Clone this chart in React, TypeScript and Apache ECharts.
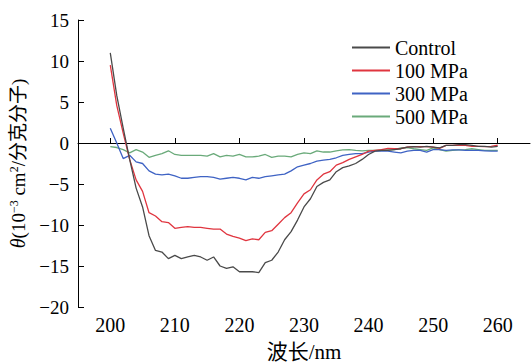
import React, { useEffect, useRef } from "react";
import * as echarts from "echarts";

const wavelengths = [
  200, 201, 202, 203, 204, 205, 206, 207, 208, 209,
  210, 211, 212, 213, 214, 215, 216, 217, 218, 219,
  220, 221, 222, 223, 224, 225, 226, 227, 228, 229,
  230, 231, 232, 233, 234, 235, 236, 237, 238, 239,
  240, 241, 242, 243, 244, 245, 246, 247, 248, 249,
  250, 251, 252, 253, 254, 255, 256, 257, 258, 259, 260,
];

const control = [
  11, 5.8, 1.8, -2.0, -5.5, -7.8, -11.3, -13.1, -13.3, -14.1,
  -13.7, -14.1, -13.9, -13.7, -13.9, -14.3, -13.9, -15.0, -15.3, -15.1,
  -15.7, -15.7, -15.7, -15.8, -14.6, -14.3, -13.3, -11.8, -10.8, -9.4,
  -7.8, -6.8, -5.3, -4.8, -4.5, -3.5, -3.0, -2.8, -2.5, -2.0,
  -1.4, -1.0, -0.9, -0.9, -0.8, -0.7, -0.5, -0.45, -0.5, -0.4,
  -0.5, -0.6, -0.3, -0.3, -0.2, -0.2, -0.3, -0.4, -0.4, -0.5, -0.4,
];

const mpa100 = [
  9.5, 4.6, 1.2, -2.0, -4.5, -5.9, -8.5, -8.9, -9.6, -9.7,
  -10.4, -10.3, -10.2, -10.3, -10.3, -10.4, -10.5, -10.5, -11.1, -11.4,
  -11.6, -11.9, -11.7, -11.8, -10.9, -10.7, -9.9, -9.1, -8.5, -7.3,
  -6.2, -5.7, -4.5, -3.8, -3.5, -2.7, -2.4, -2.0, -1.7, -1.4,
  -1.0, -0.9, -0.8, -0.65, -0.7, -0.7, -0.5, -0.45, -0.45, -0.45,
  -0.5, -0.65, -0.3, -0.3, -0.25, -0.3, -0.4, -0.4, -0.45, -0.4, -0.25,
];

const mpa300 = [
  1.8, 0, -1.9, -1.5, -2.3, -2.5, -3.4, -3.8, -3.9, -3.8,
  -4.0, -4.3, -4.3, -4.2, -4.1, -4.1, -4.2, -4.4, -4.3, -4.2,
  -4.3, -4.5, -4.2, -4.3, -4.1, -4.0, -3.9, -3.8, -3.4, -2.9,
  -2.7, -2.5, -2.2, -2.1, -2.0, -1.8, -1.5, -1.4, -1.3, -1.3,
  -1.1, -1.0, -1.0, -1.0, -1.1, -1.2, -1.0, -0.9, -0.9, -1.1,
  -0.8, -0.8, -0.9, -0.85, -0.85, -0.9, -0.9, -0.9, -0.95, -1.0, -1.0,
];

const mpa500 = [
  -0.45, -0.55, -0.8, -1.2, -0.8, -1.1, -1.75, -1.5, -1.3, -0.95,
  -1.4, -1.5, -1.5, -1.5, -1.5, -1.6, -1.3, -1.7, -1.5, -1.6,
  -1.4, -1.7, -1.7, -1.6, -1.4, -1.75, -1.6, -1.6, -1.7, -1.4,
  -1.2, -1.3, -0.95, -1.1, -1.1, -0.95, -0.85, -0.8, -0.9, -0.95,
  -0.9, -0.9, -0.85, -0.85, -0.8, -0.6, -0.55, -0.7, -0.8, -0.9,
  -0.6, -0.8, -1.0, -0.9, -0.85, -0.8, -0.7, -0.8, -0.9, -0.9, -0.9,
];

const seriesNames = ["Control", "100 MPa", "300 MPa", "500 MPa"];
const seriesColors = ["#4a4a4a", "#e0353f", "#3f63c4", "#6aaa7a"];
const xTicks = [200, 210, 220, 230, 240, 250, 260];

const SERIF = "Liberation Serif";
const CJK = "Liberation Serif, Noto Sans CJK SC";

export default function App() {
  const ref = useRef<HTMLDivElement>(null);

  useEffect(() => {
    if (!ref.current) return;
    const chart = echarts.init(ref.current, null, { renderer: "svg" });
    const allData = [control, mpa100, mpa300, mpa500];
    const option: any = {
      animation: false,
      backgroundColor: "#ffffff",
      textStyle: { fontFamily: SERIF },
      grid: { left: 78, right: 1, top: 20, bottom: 55, containLabel: false, outerBoundsMode: "none" },
      legend: {
        orient: "vertical",
        left: 352,
        top: 36,
        padding: 0,
        itemWidth: 38,
        itemHeight: 2,
        itemGap: 0,
        icon: "rect",
        textStyle: { fontFamily: SERIF, fontSize: 20, color: "#000", lineHeight: 23 },
        data: seriesNames,
      },
      xAxis: {
        type: "value",
        min: 195,
        max: 265,
        name: "波长/nm",
        nameLocation: "middle",
        nameGap: 34,
        nameTextStyle: { fontFamily: CJK, fontSize: 21, color: "#000" },
        axisLine: { show: true, lineStyle: { color: "#000", width: 1 } },
        axisTick: { show: true, inside: true, length: 5, customValues: xTicks, lineStyle: { color: "#000" } },
        axisLabel: {
          customValues: xTicks,
          fontFamily: SERIF,
          fontSize: 20,
          color: "#000",
          margin: 8,
        },
        splitLine: { show: false },
      },
      yAxis: {
        type: "value",
        min: -20,
        max: 15,
        interval: 5,
        name: "{it|θ}{n|(10}{sup|−3}{n| cm}{sup|2}{n|/分克分子)}",
        nameLocation: "middle",
        nameRotate: 90,
        nameGap: 38,
        nameTextStyle: {
          fontFamily: CJK,
          fontSize: 19,
          color: "#000",
          rich: {
            it: { fontFamily: SERIF, fontStyle: "italic", fontSize: 20, color: "#000" },
            n: { fontFamily: CJK, fontSize: 19, color: "#000" },
            sup: { fontFamily: SERIF, fontSize: 12, color: "#000", verticalAlign: "top", padding: [0, 0, 8, 0] },
          },
        },
        axisLine: { show: true, lineStyle: { color: "#000", width: 1 } },
        axisTick: { show: true, inside: true, length: 6, lineStyle: { color: "#000" } },
        axisLabel: {
          fontFamily: SERIF,
          fontSize: 19,
          color: "#000",
          margin: 9,
          formatter: (v: number) => (v < 0 ? "−" + Math.abs(v) : String(v)),
        },
        splitLine: { show: false },
      },
      series: seriesNames.map((name, i) => ({
        name,
        type: "line",
        data: wavelengths.map((w, j) => [w, allData[i][j]]),
        showSymbol: false,
        symbol: "none",
        smooth: false,
        lineStyle: { color: seriesColors[i], width: 1.3 },
        itemStyle: { color: seriesColors[i] },
        z: 10 - i,
      })),
    };
    chart.setOption(option);
    return () => chart.dispose();
  }, []);

  return (
    <div
      ref={ref}
      style={{ position: "fixed", left: 0, top: 0, width: 531, height: 362, background: "#fff" }}
    />
  );
}
